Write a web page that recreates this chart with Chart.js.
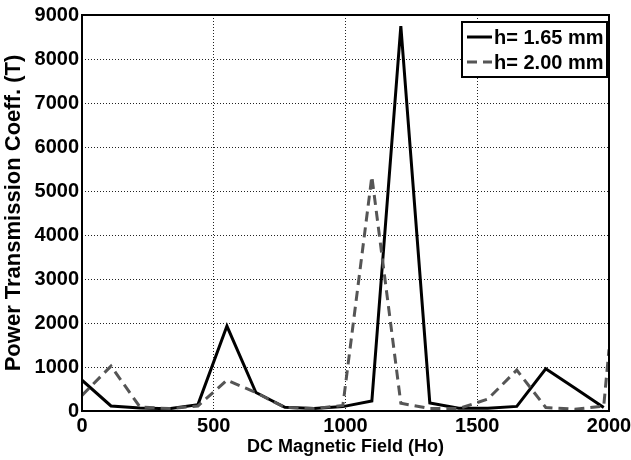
<!DOCTYPE html>
<html>
<head>
<meta charset="utf-8">
<script src="https://cdn.jsdelivr.net/npm/chart.js@4/dist/chart.umd.min.js"></script>
<style>
    html, body { margin: 0; padding: 0; background: #fff; }
    #wrap { width: 631px; height: 460px; }
</style>
</head>
<body>
<div id="wrap"><canvas id="power-chart" width="631" height="460"></canvas></div>
<script>
// DC field values (Ho)
const fieldSolid = [0, 110, 220, 330, 440, 550, 660, 770, 880, 990, 1100, 1210, 1320, 1430, 1540, 1650, 1760, 1870, 1980];
const fieldDashed = [0, 110, 220, 330, 440, 550, 660, 770, 880, 990, 1100, 1210, 1320, 1430, 1540, 1650, 1760, 1870, 1980, 2000];

// power transmission coeff. (T)
const thick165 = [700, 115, 70, 50, 145, 1930, 420, 85, 55, 100, 227, 8750, 180, 65, 60, 105, 960, 520, 80];
const thick200 = [355, 1020, 90, 55, 115, 700, 420, 80, 55, 125, 5330, 175, 55, 55, 270, 930, 80, 40, 110, 1400];

const seriesLabels = ['h= 1.65 mm', 'h= 2.00 mm'];
const xTicks = [0, 500, 1000, 1500, 2000];
const yTicks = [0, 1000, 2000, 3000, 4000, 5000, 6000, 7000, 8000, 9000];

const FONT = 'Liberation Sans, Arial, sans-serif';

function toPoints(xs, ys) {
    return xs.map((x, i) => ({ x: x, y: ys[i] }));
}

// 축 박스 (위/오른쪽 테두리 포함)
const framePlugin = {
    id: 'frame',
    afterDatasetsDraw(chart) {
        const { ctx, chartArea: a } = chart;
        ctx.save();
        ctx.strokeStyle = '#000';
        ctx.lineWidth = 2;
        ctx.setLineDash([]);
        ctx.strokeRect(a.left, a.top, a.right - a.left, a.bottom - a.top);
        ctx.restore();
    }
};

// 범례 (차트 안 오른쪽 위)
const legendBoxPlugin = {
    id: 'legendBox',
    afterDraw(chart) {
        const { ctx, chartArea: a } = chart;
        const boxW = 145, boxH = 55;
        const x = a.right - 2 - boxW;
        const y = a.top + 7;
        ctx.save();
        ctx.fillStyle = '#fff';
        ctx.fillRect(x, y, boxW, boxH);
        ctx.strokeStyle = '#000';
        ctx.lineWidth = 2;
        ctx.strokeRect(x, y, boxW, boxH);
        ctx.font = 'bold 20px ' + FONT;
        ctx.textBaseline = 'middle';
        chart.data.datasets.forEach((ds, i) => {
            const cy = y + 15 + i * 25;
            ctx.beginPath();
            ctx.strokeStyle = ds.borderColor;
            ctx.lineWidth = 3;
            ctx.setLineDash(ds.borderDash || []);
            ctx.moveTo(x + 5, cy);
            ctx.lineTo(x + 30, cy);
            ctx.stroke();
            ctx.setLineDash([]);
            ctx.fillStyle = '#000';
            ctx.fillText(ds.label, x + 32, cy + 1);
        });
        ctx.restore();
    }
};

document.addEventListener('DOMContentLoaded', function() {
    const ctx = document.getElementById('power-chart').getContext('2d');

    new Chart(ctx, {
        type: 'line',
        data: {
            datasets: [
                {
                    label: seriesLabels[0],
                    data: toPoints(fieldSolid, thick165),
                    borderColor: '#000',
                    borderWidth: 3,
                    pointRadius: 0,
                    tension: 0,
                    order: 1
                },
                {
                    label: seriesLabels[1],
                    data: toPoints(fieldDashed, thick200),
                    borderColor: '#555',
                    borderWidth: 3,
                    borderDash: [10, 6],
                    pointRadius: 0,
                    tension: 0,
                    order: 0
                }
            ]
        },
        options: {
            responsive: false,
            animation: false,
            layout: { padding: { top: 15, right: 22, left: 0, bottom: 0 } },
            plugins: {
                legend: { display: false },
                tooltip: { enabled: false }
            },
            scales: {
                x: {
                    type: 'linear',
                    min: 0,
                    max: 2000,
                    afterBuildTicks: (s) => { s.ticks = xTicks.map(v => ({ value: v })); },
                    afterFit: (s) => {
                        s.height = 49;
                        // 마지막 라벨은 그림 밖으로 나가도 됨
                        s.paddingRight = 0;
                        s.paddingLeft = 0;
                    },
                    grid: { color: '#222', lineWidth: 1, drawTicks: false },
                    border: { display: false, dash: [1, 2] },
                    ticks: {
                        color: '#000',
                        padding: 3,
                        maxRotation: 0,
                        callback: (v) => String(v),
                        font: { family: FONT, size: 20, weight: 'bold' }
                    },
                    title: {
                        display: true,
                        text: 'DC Magnetic Field (Ho)',
                        color: '#000',
                        padding: { top: 0, bottom: 2 },
                        font: { family: FONT, size: 18, weight: 'bold' }
                    }
                },
                y: {
                    min: 0,
                    max: 9000,
                    afterBuildTicks: (s) => { s.ticks = yTicks.map(v => ({ value: v })); },
                    afterFit: (s) => { s.width = 82; },
                    grid: { color: '#222', lineWidth: 1, drawTicks: false },
                    border: { display: false, dash: [1, 2] },
                    ticks: {
                        color: '#000',
                        padding: 3,
                        callback: (v) => String(v),
                        font: { family: FONT, size: 20, weight: 'bold' }
                    },
                    title: {
                        display: true,
                        text: 'Power Transmission Coeff. (T)',
                        color: '#000',
                        padding: { top: 1, bottom: 0 },
                        font: { family: FONT, size: 22, weight: 'bold' }
                    }
                }
            }
        },
        plugins: [framePlugin, legendBoxPlugin]
    });
});
</script>
</body>
</html>
